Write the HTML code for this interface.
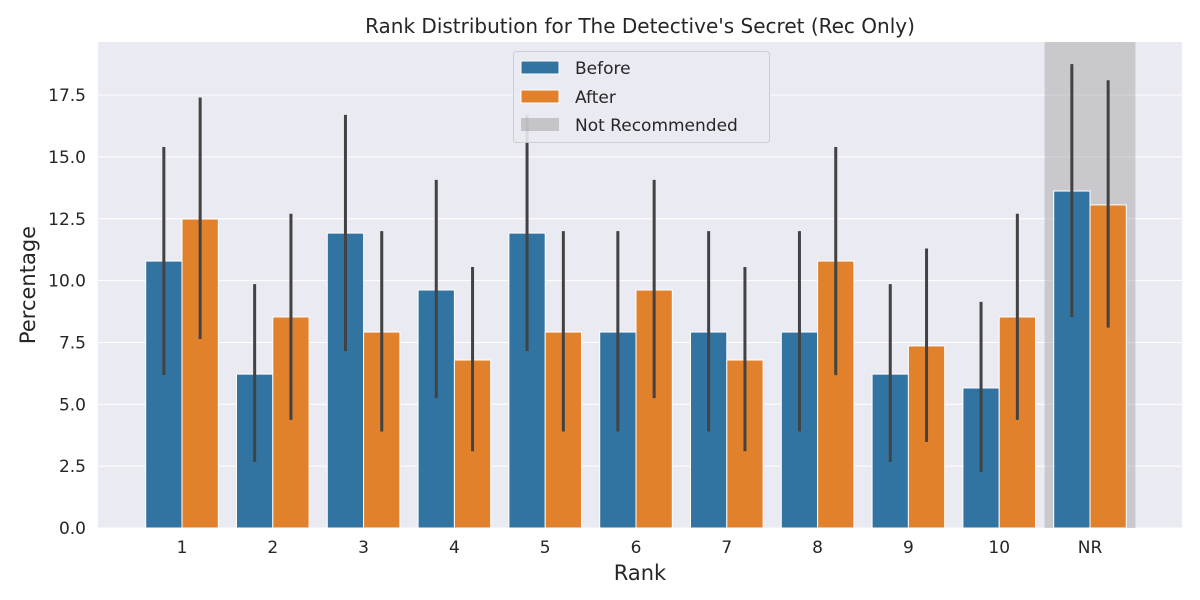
<!DOCTYPE html>
<html><head><meta charset="utf-8"><style>
body{margin:0;background:#fff;}
svg{display:block;font-family:"DejaVu Sans","Liberation Sans",sans-serif;}
</style></head><body>
<svg id="chart" width="1200" height="600">
<rect x="98" y="42" width="1084" height="486" fill="#eaeaf2"/>
<g id="grid"></g>
<rect id="nr-shade" y="42" height="486" fill="#a0a0a0" opacity="0.45"/>
<g id="bars"></g>
<g id="err"></g>
<g id="xticks"></g>
<g id="yticks"></g>
<text x="640" y="33" text-anchor="middle" font-size="20" fill="#262626">Rank Distribution for The Detective's Secret (Rec Only)</text>
<text x="640" y="580" text-anchor="middle" font-size="21" fill="#262626">Rank</text>
<text transform="translate(35,285) rotate(-90)" text-anchor="middle" font-size="21" fill="#262626">Percentage</text>
<g>
<rect x="513.5" y="51.5" width="256" height="91" rx="3" fill="#eaeaf2" stroke="#cccccc" opacity="0.9"/>
<g><rect x="521" y="61" width="38" height="13" fill="#3274a1" stroke="#fff"/><text x="575" y="74" font-size="17" fill="#262626">Before</text></g>
<g><rect x="521" y="90" width="38" height="13" fill="#e1812c" stroke="#fff"/><text x="575" y="103" font-size="17" fill="#262626">After</text></g>
<g><rect x="521" y="118" width="38" height="13" fill="#a0a0a0" opacity="0.5"/><text x="575" y="131" font-size="17" fill="#262626">Not Recommended</text></g>
</g>
</svg>
<script>
const categories=["1","2","3","4","5","6","7","8","9","10","NR"];
const beforeVals=[10.79,6.22,11.92,9.62,11.92,7.92,7.92,7.92,6.22,5.66,13.62];
const afterVals=[12.49,8.53,7.92,6.79,7.92,9.62,6.79,10.79,7.36,8.53,13.06];
const beforeLo=[6.18,2.67,7.15,5.25,7.15,3.9,3.9,3.9,2.67,2.26,8.53];
const beforeHi=[15.4,9.86,16.7,14.07,16.7,12.0,12.0,12.0,9.86,9.14,18.75];
const afterLo=[7.64,4.37,3.9,3.1,3.9,5.25,3.1,6.18,3.48,4.37,8.1];
const afterHi=[17.4,12.7,12.0,10.55,12.0,14.07,10.55,15.4,11.3,12.7,18.1];
const yTicks=[0,2.5,5,7.5,10,12.5,15,17.5];
const NS="http://www.w3.org/2000/svg";
const y=v=>528-v*24.74;
const x=i=>182+i*90.8;
function mk(tag,attrs,parent){const e=document.createElementNS(NS,tag);for(const k in attrs)e.setAttribute(k,attrs[k]);document.getElementById(parent).appendChild(e);return e;}
yTicks.forEach(t=>{
 const g=mk('line',{x1:98,x2:1182,y1:y(t),y2:y(t),stroke:'#fff','stroke-width':1},'grid');
 
 
 const tx=mk('text',{x:86,y:y(t)+6,'text-anchor':'end','font-size':17,fill:'#262626'},'yticks');
 tx.textContent=t.toFixed(1);
 
 
});
const sh=document.getElementById('nr-shade');
sh.setAttribute('x',x(10)-45.4);sh.setAttribute('width',90.8);
categories.forEach((c,i)=>{
 const bw=36.3;
 const b=mk('rect',{x:x(i)-bw,y:y(beforeVals[i]),width:bw,height:528-y(beforeVals[i]),fill:'#3274a1',stroke:'#fff','stroke-width':1},'bars');
 
 
 const a=mk('rect',{x:x(i),y:y(afterVals[i]),width:bw,height:528-y(afterVals[i]),fill:'#e1812c',stroke:'#fff','stroke-width':1},'bars');
 
 
 const e1=mk('line',{x1:x(i)-bw/2,x2:x(i)-bw/2,y1:y(beforeLo[i]),y2:y(beforeHi[i]),stroke:'#424242','stroke-width':3},'err');
 
 
 const e2=mk('line',{x1:x(i)+bw/2,x2:x(i)+bw/2,y1:y(afterLo[i]),y2:y(afterHi[i]),stroke:'#424242','stroke-width':3},'err');
 
 
 const t=mk('text',{x:x(i),y:553,'text-anchor':'middle','font-size':17,fill:'#262626'},'xticks');
 t.textContent=c;
 
 
});
</script>
</body></html>
